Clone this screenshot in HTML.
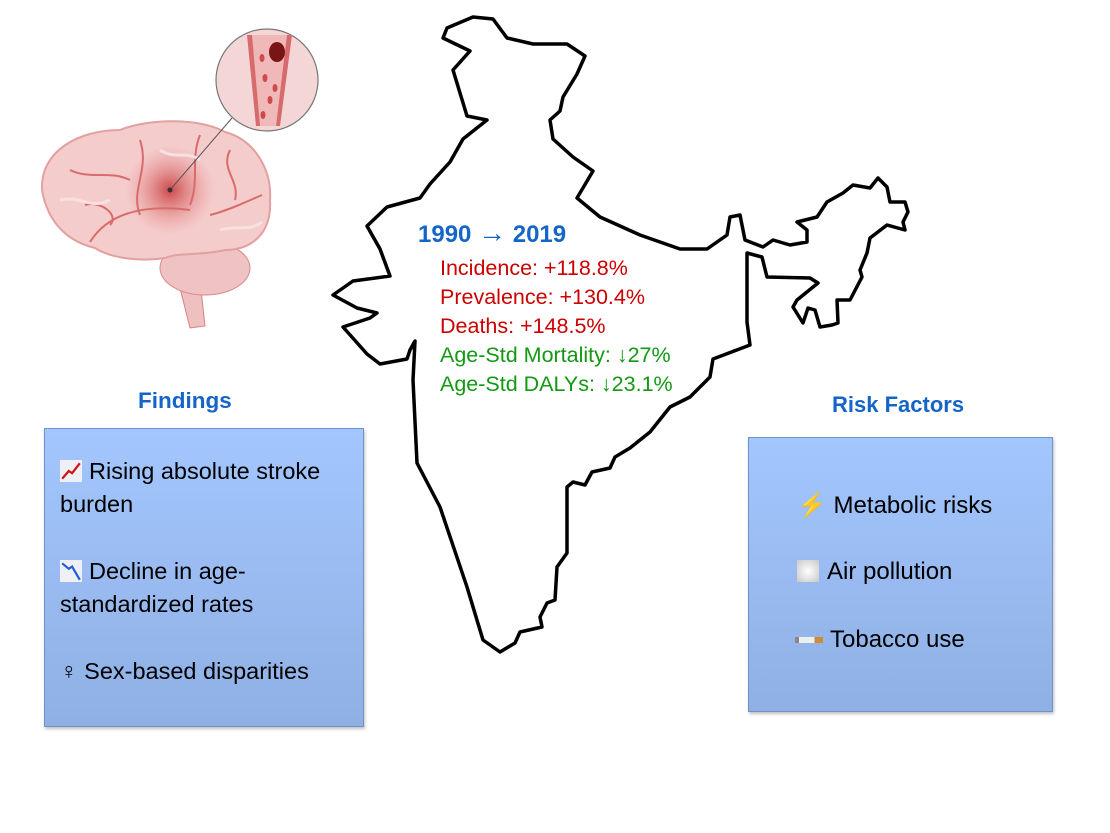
<!DOCTYPE html>
<html><head><meta charset="utf-8">
<style>
body{margin:0;width:1110px;height:833px;background:#fff;position:relative;overflow:hidden;font-family:"Liberation Sans",sans-serif}
.t{position:absolute;white-space:nowrap}
.box{position:absolute;background:linear-gradient(#a3c6ff,#8fb0e3);border:1.5px solid #6e93c8;box-shadow:1px 2px 3px rgba(0,0,0,.25)}
.item{position:absolute;font-size:23.5px;color:#000;line-height:33px}
.ic{display:inline-block;width:22px;height:22px;vertical-align:-3px;margin-right:7px}
</style></head><body>
<svg style="position:absolute;left:0;top:0" width="400" height="340">
<defs>
<radialGradient id="glow" cx="0.5" cy="0.5" r="0.5"><stop offset="0" stop-color="#c73a3a" stop-opacity=".9"/><stop offset="1" stop-color="#e98a8a" stop-opacity="0"/></radialGradient>
</defs>
<path d="M178 280 L190 328 L205 326 L200 280 Z" fill="#efc0c0" stroke="#d98080"/>
<ellipse cx="205" cy="268" rx="45" ry="27" fill="#efc3c3" stroke="#d98a8a"/>
<path d="M42 190 C40 150 80 130 120 130 C150 118 200 118 225 132 C255 140 272 170 270 200 C272 235 250 250 225 250 C200 256 180 252 165 258 C140 262 110 258 95 248 C70 242 48 225 42 190Z" fill="#f4cccc" stroke="#e3a0a0" stroke-width="2"/>
<circle cx="170" cy="190" r="45" fill="url(#glow)"/>
<path d="M90 242 C110 210 150 205 190 210 M140 140 C150 170 130 190 140 215 M200 135 C190 160 200 180 190 205 M70 170 C90 180 110 170 130 180 M210 215 C230 210 250 200 262 195 M110 225 C120 215 100 200 85 205 M230 150 C220 170 240 180 235 200" stroke="#d96b6b" stroke-width="2" fill="none"/>
<path d="M60 200 C80 195 90 210 110 200 M160 150 C175 160 185 150 200 160 M220 230 C235 225 250 232 262 222" stroke="#f8e0e0" stroke-width="3" fill="none"/>
<line x1="170" y1="190" x2="232" y2="118" stroke="#555" stroke-width="1"/>
<circle cx="170" cy="190" r="2.5" fill="#333"/>
<circle cx="267" cy="80" r="51" fill="#f4d6d6" stroke="#777" stroke-width="1.2"/>
<path d="M247 35 L256 126 L280 126 L292 35 Z" fill="#d76b6b"/>
<path d="M252 35 L260 126 L276 126 L287 35 Z" fill="#f0b8b8"/>
<ellipse cx="277" cy="52" rx="8" ry="10" fill="#7a1515"/>
<g fill="#cf4a4a"><ellipse cx="262" cy="58" rx="2.5" ry="4"/><ellipse cx="265" cy="78" rx="2.5" ry="4"/><ellipse cx="270" cy="100" rx="2.5" ry="4"/><ellipse cx="263" cy="115" rx="2.5" ry="4"/><ellipse cx="275" cy="88" rx="2.5" ry="4"/></g>
</svg>
<svg style="position:absolute;left:0;top:0" width="1110" height="833">
<path fill="#fff" stroke="#000" stroke-width="3.5" stroke-linejoin="round" d="M447 28 L473 17 L493 19 L507 38 L533 44 L567 44 L585 56 L577 74 L563 97 L560 111 L550 120 L553 139 L573 157 L593 171 L577 198 L600 217 L640 235 L680 249 L707 249 L727 235 L730 217 L740 215 L745 240 L763 247 L773 240 L790 245 L807 242 L807 230 L797 222 L817 217 L827 202 L843 193 L853 185 L870 188 L878 178 L887 187 L890 202 L905 202 L908 212 L903 222 L905 230 L887 225 L870 238 L867 253 L860 270 L862 277 L850 300 L837 300 L838 323 L832 325 L820 327 L815 310 L808 308 L803 323 L793 307 L797 300 L818 283 L810 278 L767 277 L762 257 L747 253 L747 285 L747 322 L750 345 L713 359 L710 377 L690 397 L670 407 L650 432 L630 448 L615 457 L610 468 L592 472 L585 485 L573 482 L567 487 L567 553 L557 567 L555 600 L547 603 L540 617 L542 627 L520 632 L515 643 L500 652 L483 640 L467 587 L440 507 L417 463 L413 380 L415 341 L410 350 L407 359 L380 364 L367 354 L343 327 L370 318 L377 313 L357 308 L333 295 L353 281 L390 276 L380 249 L367 226 L387 207 L420 198 L430 184 L450 162 L463 139 L487 120 L467 116 L453 70 L470 51 L443 38 Z"/>
</svg>
<div class="t" style="left:418px;top:217px;font-size:24px;font-weight:bold;color:#1565c8">1990 <span style="font-size:28px">→</span> 2019</div>
<div style="position:absolute;left:440px;top:254px;font-size:21.5px;line-height:29px">
<div style="color:#cc0000">Incidence: +118.8%</div>
<div style="color:#cc0000">Prevalence: +130.4%</div>
<div style="color:#cc0000">Deaths: +148.5%</div>
<div style="color:#129912">Age-Std Mortality: ↓27%</div>
<div style="color:#129912">Age-Std DALYs: ↓23.1%</div>
</div>
<div class="t" style="left:138px;top:388px;font-size:22.5px;font-weight:bold;color:#1565c8">Findings</div>
<div class="box" style="left:44px;top:428px;width:318px;height:297px"></div>
<div class="item" style="left:60px;top:455px;width:295px">
<svg class="ic" viewBox="0 0 20 20"><rect width="20" height="20" fill="#eef0f5"/><polyline points="2,17 8,10 11,12 18,3" stroke="#d01010" stroke-width="2" fill="none"/></svg>Rising absolute stroke burden</div>
<div class="item" style="left:60px;top:555px;width:290px">
<svg class="ic" viewBox="0 0 20 20"><rect width="20" height="20" fill="#eef0f5"/><polyline points="2,3 8,8 11,6 18,18" stroke="#2060d0" stroke-width="2" fill="none"/></svg>Decline in age-standardized rates</div>
<div class="item" style="left:60px;top:655px">♀ Sex-based disparities</div>
<div class="t" style="left:832px;top:392px;font-size:22px;font-weight:bold;color:#1565c8">Risk Factors</div>
<div class="box" style="left:748px;top:437px;width:303px;height:273px"></div>
<div class="item" style="left:797px;top:489px;font-size:24px"><span style="color:#f0b000">⚡</span> Metabolic risks</div>
<div class="item" style="left:797px;top:555px;font-size:24px"><span class="ic" style="background:radial-gradient(#fff,#c8c8c8);margin-right:8px"></span>Air pollution</div>
<div class="item" style="left:795px;top:623px;font-size:24px"><span class="ic" style="height:6px;vertical-align:4px;background:linear-gradient(90deg,#888 0 15%,#eee 15% 70%,#d08a3a 70%);margin-right:7px;width:28px"></span>Tobacco use</div>
</body></html>
